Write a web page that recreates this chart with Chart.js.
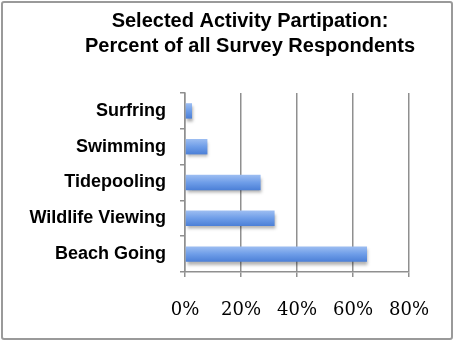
<!DOCTYPE html>
<html>
<head>
<meta charset="utf-8">
<script src="https://cdn.jsdelivr.net/npm/chart.js@4"></script>
<style>
  html, body { margin: 0; padding: 0; background: #fff; }
  #wrap { position: relative; width: 454px; height: 341px; }
  #frame { position: absolute; left: 1px; top: 1px; width: 448px; height: 335px;
           border: 2px solid #9a9a9a; border-radius: 3px; pointer-events: none; }
</style>
</head>
<body>
<div id="wrap">
  <canvas id="chart" width="454" height="341"></canvas>
  <div id="frame"></div>
</div>
<script>
const activities = ["Surfring", "Swimming", "Tidepooling", "Wildlife Viewing", "Beach Going"];
const percentValues = [2.5, 8, 27, 32, 65];
const titleLines = ["Selected Activity Partipation:", "Percent of all Survey Respondents"];

const gridColor = "#8f8f8f";

function barGradient(context) {
  const chart = context.chart;
  const y = chart.scales.y;
  if (!y || context.dataIndex == null) return "#6d9be3";
  const cy = y.getPixelForValue(context.dataIndex);
  if (!isFinite(cy)) return "#6d9be3";
  const g = chart.ctx.createLinearGradient(0, cy - 8, 0, cy + 8);
  g.addColorStop(0, "#9fbff2");
  g.addColorStop(0.5, "#6e9de8");
  g.addColorStop(1, "#4a7ed6");
  return g;
}

const barShadow = {
  id: "barShadow",
  beforeDatasetDraw(chart) {
    const c = chart.ctx;
    c.save();
    c.shadowColor = "rgba(0,0,0,0.3)";
    c.shadowBlur = 3;
    c.shadowOffsetX = 1;
    c.shadowOffsetY = 3;
  },
  afterDatasetDraw(chart) {
    chart.ctx.restore();
  }
};

// title centred a little right of the canvas middle, like the original
const offsetTitle = {
  id: "offsetTitle",
  afterDraw(chart) {
    const c = chart.ctx;
    c.save();
    c.fillStyle = "#000";
    c.font = "bold 20px 'Liberation Sans'";
    c.textAlign = "center";
    c.textBaseline = "alphabetic";
    titleLines.forEach((line, i) => c.fillText(line, 250, 27 + i * 25));
    c.restore();
  }
};

new Chart(document.getElementById("chart"), {
  type: "bar",
  data: {
    labels: activities,
    datasets: [{
      data: percentValues,
      backgroundColor: barGradient,
      borderWidth: 0,
      categoryPercentage: 1,
      barPercentage: 0.43
    }]
  },
  plugins: [barShadow, offsetTitle],
  options: {
    indexAxis: "y",
    responsive: false,
    animation: false,
    layout: { padding: { left: 20, right: 45, top: 93, bottom: 0 } },
    plugins: {
      legend: { display: false },
      tooltip: { enabled: false },
      title: { display: false }
    },
    scales: {
      x: {
        min: 0,
        max: 80,
        ticks: {
          stepSize: 20,
          color: "#000",
          padding: 23,
          font: { family: "DejaVu Serif", size: 18 },
          callback: v => v + "%"
        },
        grid: { color: gridColor, lineWidth: 1.5, tickLength: 5, drawTicks: true },
        border: { color: gridColor, width: 1.5 },
        afterFit(scale) { scale.height = 69; }
      },
      y: {
        ticks: {
          color: "#000",
          padding: 14,
          font: { family: "Liberation Sans", size: 18, weight: "bold" }
        },
        grid: { offset: true, drawOnChartArea: false, color: gridColor, lineWidth: 1.5, tickLength: 5 },
        border: { color: gridColor, width: 1.5 },
        afterFit(scale) { scale.width = 165; }
      }
    }
  }
});
</script>
</body>
</html>
